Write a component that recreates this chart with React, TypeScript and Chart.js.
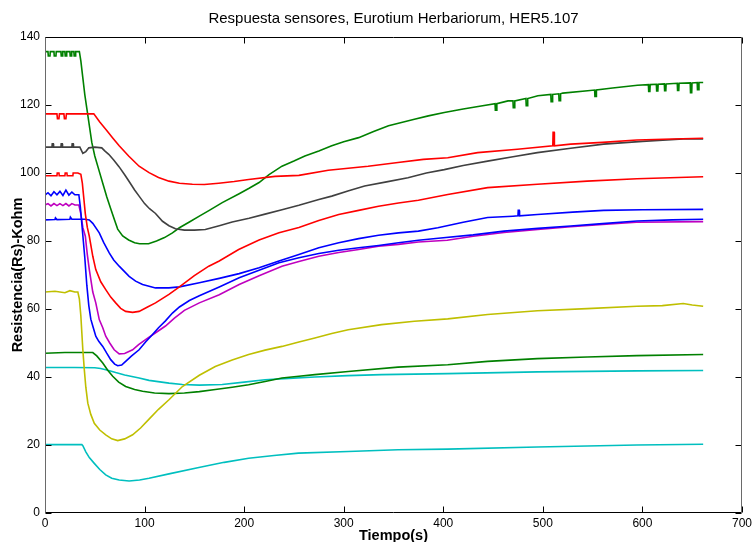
import React, { useEffect, useRef } from "react";
import { Chart, registerables } from "chart.js";

Chart.register(...registerables);

const TITLE = "Respuesta sensores, Eurotium Herbariorum, HER5.107";
const X_LABEL = "Tiempo(s)";
const Y_LABEL = "Resistencia(Rs)-Kohm";
const X_TICKS = [0, 100, 200, 300, 400, 500, 600, 700];
const Y_TICKS = [0, 20, 40, 60, 80, 100, 120, 140];

// [time (s), resistance (kOhm)]
const green1: [number, number][] = [
  [0, 135.7], [3, 135.7], [3.3, 134.4], [5, 134.4], [5.3, 135.7], [9, 135.7], [9.3, 134.4], [11, 134.4], [11.3, 135.7],
  [16, 135.7], [16.3, 134.4], [17.5, 134.4], [17.8, 135.7], [20, 135.7], [20.3, 134.4], [21.5, 134.4], [21.8, 135.7],
  [25, 135.7], [25.3, 134.4], [26.5, 134.4], [26.8, 135.7], [29, 135.7], [29.3, 134.4], [30.5, 134.4], [30.8, 135.7],
  [34.5, 135.7],
  [36, 133], [38, 128], [40, 123], [42, 119], [44.5, 114], [47, 109], [50, 105], [54, 101], [58, 97], [62, 93],
  [66, 89.5], [70, 86], [73, 83.5], [78, 81.5], [84, 80.3], [90, 79.5], [95, 79.2], [104, 79.2], [112, 80], [120, 81],
  [128, 82.4], [135, 83.9], [145, 85.6], [155, 87.3], [165, 89], [178, 91.3], [195, 93.9], [205, 95.5], [215, 97.2],
  [225, 99.5], [238, 102], [250, 103.5], [261, 105], [275, 106.5], [288, 108], [300, 109.2], [315, 110.4], [330, 112.2],
  [345, 113.9], [360, 115], [371, 115.8], [385, 116.8], [401, 117.8], [420, 118.8], [438, 119.7], [452, 120.4],
  [452.3, 118.5], [453.5, 118.5], [453.8, 120.4], [465, 121.2], [470, 121.2], [470.3, 119.2], [471.5, 119.2],
  [471.8, 121.2], [483, 121.9], [483.3, 119.8], [484.5, 119.8], [484.8, 121.9], [495, 122.7], [508, 123.1],
  [508.3, 121], [509.5, 121], [509.8, 123.1], [516, 123.3], [516.3, 121.3], [517.5, 121.3], [517.8, 123.3],
  [520, 123.5], [545, 124.2], [552, 124.4], [552.3, 122.5], [553.5, 122.5], [553.8, 124.4], [570, 125], [595, 125.8],
  [606, 126], [606.3, 124], [607.5, 124], [607.8, 126], [614, 126.1], [614.3, 124.1], [615.5, 124.1], [615.8, 126.1],
  [622, 126.2], [622.3, 124.2], [623.5, 124.2], [623.8, 126.2], [635, 126.4], [635.3, 124.3], [636.5, 124.3],
  [636.8, 126.4], [648, 126.5], [648.3, 123.6], [649.5, 123.6], [649.8, 126.5], [655, 126.6], [655.3, 124.5],
  [656.5, 124.5], [656.8, 126.6], [661, 126.6],
];

const red2: [number, number][] = [
  [0, 117.4], [12, 117.4], [12.5, 116], [14, 116], [14.5, 117.4], [19, 117.4], [19.5, 116], [21, 116], [21.5, 117.4],
  [49, 117.4], [55, 115], [62, 112.5], [68, 110.3], [74.5, 108], [84, 105], [94.5, 102], [104.5, 100.1], [114, 98.7],
  [124.5, 97.6], [135, 97], [148, 96.7], [160, 96.6], [174.5, 97], [190, 97.5], [204.5, 98.1], [231, 99], [255, 99.3],
  [284.5, 100.8], [324.5, 102], [354.5, 103.1], [380, 104], [404.5, 104.5], [434.5, 106], [474.5, 107], [510, 108],
  [510.3, 112], [511.3, 112], [511.6, 108], [528, 108.5], [560, 109], [594.5, 109.7], [630, 110], [661, 110.2],
];

const gray: [number, number][] = [
  [0, 107.6], [7, 107.6], [7.3, 108.6], [8.3, 108.6], [8.6, 107.6], [16, 107.6], [16.3, 108.6], [17.3, 108.6],
  [17.6, 107.6], [27, 107.6], [27.3, 108.6], [28.3, 108.6], [28.6, 107.6], [35, 107.6], [38, 105.8], [41, 106.3],
  [44, 107.4], [50, 107.6], [57, 107.4], [60, 106.5], [64, 105.5],
  [69, 103.8], [74.5, 101.8], [80, 99.5], [84.5, 97.5], [90, 95], [94.5, 93.2], [100, 91], [105, 89.5], [111, 88.1],
  [118, 85.8], [124.5, 84.5], [131, 83.6], [140, 83.2], [150, 83.2], [161, 83.4], [175, 84.5], [188, 85.6], [205, 86.7],
  [221, 87.9], [238, 89.2], [255, 90.5], [275, 92.2], [288, 93.2], [305, 94.8], [321, 96.2], [343, 97.4], [364.5, 98.6],
  [383, 100], [401, 101], [420, 102.2], [444.5, 103.5], [470, 104.8], [494.5, 106], [528, 107.3], [561, 108.5],
  [600, 109.3], [641, 110], [661, 110],
];

const red1: [number, number][] = [
  [0, 99.2], [12, 99.2], [12.3, 100], [14, 100], [14.3, 99.2], [20, 99.2], [20.3, 100], [22, 100], [22.3, 99.2],
  [28, 99.2], [28.3, 100], [33, 100],
  [36, 99.6], [37.5, 97], [38.5, 94], [40.5, 88], [42.5, 84], [44.5, 81.4], [48, 75.5], [51, 71.6], [56, 68], [61, 65.7],
  [66, 63.5], [71, 61.8], [76, 60.2], [81, 59.3], [88, 59], [94.5, 59.3], [103, 60.6], [111, 61.8], [124.5, 64.3],
  [135, 66.5], [150, 69.8], [164.5, 72.6], [175, 74.1], [194.5, 77.5], [215, 80.3], [235, 82.4], [255, 84], [275, 86],
  [295, 87.8], [315, 89], [335, 90.2], [355, 91.2], [375, 92], [404.5, 93.7], [444.5, 95.7], [494.5, 96.7],
  [544.5, 97.6], [594.5, 98.3], [661, 98.9],
];

const blue1: [number, number][] = [
  [0, 93.5], [3, 94.2], [6, 93.3], [9, 94.5], [12, 93.6], [15, 94.6], [18, 93.4], [21, 95], [24, 93.5], [27, 94.4],
  [30, 93.6], [34, 93.6], [35.5, 90], [37, 85], [38.5, 80], [40, 75], [42, 67], [44, 61], [46, 57], [48.5, 54.5],
  [51, 52], [54, 50.5], [58, 49], [62, 47], [66, 45.1], [70, 43.8], [73, 43.3], [77, 43.5], [81, 44.6], [87, 46.2],
  [94.5, 48], [101, 50.3], [108, 52.5], [114, 54.5], [121, 56.5], [128, 58.8], [135, 60.6], [145, 62.5], [155, 63.9],
  [175, 66.5], [195, 69.2], [215, 71.4], [235, 73.6], [255, 75.1], [275, 76.3], [295, 77.3], [315, 78], [335, 78.7],
  [355, 79.5], [375, 80.2], [395, 80.8], [430, 81.8], [461, 82.9], [495, 83.7], [528, 84.4], [560, 85.1], [594.5, 85.9],
  [630, 86.2], [661, 86.4],
];

const blue2: [number, number][] = [
  [0, 86.2], [10, 86.3], [10.5, 86.8], [12, 86.3], [25, 86.4], [25.5, 87], [27, 86.4], [40, 86.4], [44.5, 86.2],
  [48, 85.2], [54.5, 82.4], [59, 79.5], [64.5, 76.5], [69, 74.4], [74.5, 72.6], [84.5, 69.6], [91, 68.2], [98, 67.2],
  [111, 66.2], [124.5, 66.2], [135, 66.5], [155, 67.7], [175, 69], [195, 70.4], [215, 72.1], [235, 74.1], [255, 76],
  [275, 78], [295, 79.5], [315, 80.7], [335, 81.7], [355, 82.4], [375, 82.9], [394.5, 83.9], [420, 85.5], [444.5, 86.9],
  [470, 87.3], [475, 87.4], [475.3, 89], [476.3, 89], [476.6, 87.4], [494.5, 87.8], [530, 88.5], [561, 89], [600, 89.2],
  [661, 89.3],
];

const magenta: [number, number][] = [
  [0, 90.6], [3, 91], [6, 90.3], [9, 91], [12, 90.4], [15, 91], [18, 90.4], [21, 91], [24, 90.3], [27, 91], [30, 90.6],
  [34, 90.6], [36, 88], [38, 84], [40.5, 81.4], [42.5, 76], [44.5, 71.6], [48, 65], [51, 61.8], [54.5, 56.9], [58, 54.5],
  [61, 52], [65, 50], [69.5, 48], [74.5, 46.8], [80, 46.9], [88, 48], [94, 49.5], [101, 51], [110, 52.8], [121, 55],
  [130, 57.3], [140, 59.6], [155, 61.8], [175, 64.2], [195, 67.2], [215, 69.8], [238, 72.6], [255, 74], [275, 75.5],
  [295, 76.6], [315, 77.5], [335, 78.5], [355, 79], [375, 79.7], [404, 80.2], [430, 81.4], [461, 82.5], [495, 83.4],
  [528, 84.2], [560, 84.9], [594, 85.5], [661, 85.7],
];

const yellow: [number, number][] = [
  [0, 65], [10, 65.2], [20, 64.8], [25, 65.4], [30, 65], [33, 65], [34.5, 63], [36, 58], [37, 53], [38, 48], [39.5, 42.1],
  [41, 37], [43, 32.3], [46, 29], [49.5, 26.4], [55, 24.4], [61, 23], [67, 21.8], [73, 21.3], [80, 21.8], [88, 23],
  [96, 25], [104.5, 27.6], [114, 30.5], [124.5, 33.3], [138, 37.2], [155, 40.5], [171, 43.1], [188, 45], [204.5, 46.6],
  [221, 47.9], [238, 49], [255, 50.3], [271, 51.5], [288, 52.8], [304.5, 53.9], [338, 55.4], [371, 56.4], [404.5, 57.1],
  [444.5, 58.4], [494.5, 59.5], [544.5, 60.1], [594.5, 60.8], [620, 61], [641, 61.6], [650, 61.2], [661, 60.8],
];

const green2: [number, number][] = [
  [0, 47], [20, 47.2], [40, 47.2], [48, 47.2], [52, 46.2], [58, 44.1], [63, 42], [68, 40.2], [74, 38.5], [81, 37.2],
  [90, 36.3], [98, 35.8], [110, 35.3], [124.5, 35.1], [140, 35.3], [155, 35.7], [171, 36.3], [188, 37], [204.5, 37.7],
  [221, 38.7], [238, 39.7], [255, 40.2], [271, 40.7], [304.5, 41.6], [354.5, 42.9], [404.5, 43.6], [444.5, 44.6],
  [494.5, 45.4], [544.5, 45.9], [594.5, 46.3], [661, 46.6],
];

const cyan1: [number, number][] = [
  [0, 42.8], [30, 42.8], [50, 42.7], [56, 42.5], [63, 42], [71, 41.3], [80, 40.6], [94.5, 39.7], [104.5, 39],
  [124.5, 38.2], [138, 37.8], [155, 37.6], [178, 37.8], [200, 38.5], [221, 39.2], [245, 39.6], [271, 40], [304, 40.4],
  [338, 40.7], [404.5, 41], [494.5, 41.5], [594.5, 41.8], [661, 41.9],
];

const cyan2: [number, number][] = [
  [0, 20.1], [37, 20.1], [38, 19.8], [41, 18], [44.5, 16.3], [49.5, 14.6], [55, 12.8], [61, 11.2], [67, 10.2],
  [74.5, 9.7], [84.5, 9.4], [95, 9.7], [104.5, 10.2], [124.5, 11.5], [154.5, 13.4], [180, 14.9], [204.5, 16.1],
  [230, 16.9], [254.5, 17.6], [304.5, 18.1], [354.5, 18.6], [404.5, 18.8], [494.5, 19.4], [594.5, 20], [661, 20.2],
];

// topmost first (Chart.js draws dataset 0 last)
const SERIES: { name: string; data: [number, number][]; color: string }[] = [
  { name: "S1", data: red2, color: "#FF0000" },
  { name: "S2", data: gray, color: "#404040" },
  { name: "S3", data: green1, color: "#008000" },
  { name: "S4", data: red1, color: "#FF0000" },
  { name: "S5", data: blue2, color: "#0000FF" },
  { name: "S6", data: blue1, color: "#0000FF" },
  { name: "S7", data: magenta, color: "#BF00BF" },
  { name: "S8", data: yellow, color: "#BFBF00" },
  { name: "S9", data: green2, color: "#008000" },
  { name: "S10", data: cyan1, color: "#00BFBF" },
  { name: "S11", data: cyan2, color: "#00BFBF" },
];

const FONT = "'Liberation Sans', Arial, Helvetica, sans-serif";

const framePlugin = {
  id: "matlabFrame",
  afterDatasetsDraw(chart: any) {
    const { ctx, chartArea: a, scales } = chart;
    const x = scales.x;
    const y = scales.y;
    const L = Math.round(a.left) + 0.5;
    const R = Math.round(a.right) - 0.5;
    const T = Math.round(a.top) + 0.5;
    const B = Math.round(a.bottom) - 0.5;
    ctx.save();
    ctx.lineWidth = 1;
    ctx.strokeStyle = "#000000";
    ctx.beginPath();
    for (const v of X_TICKS) {
      const px = Math.round(x.getPixelForValue(v)) + 0.5;
      ctx.moveTo(px, B);
      ctx.lineTo(px, B - 6);
      ctx.moveTo(px, T);
      ctx.lineTo(px, T + 6);
    }
    for (const v of Y_TICKS) {
      const py = Math.round(y.getPixelForValue(v)) + 0.5;
      ctx.moveTo(L, py);
      ctx.lineTo(L + 6, py);
      ctx.moveTo(R, py);
      ctx.lineTo(R - 6, py);
    }
    ctx.stroke();
    ctx.beginPath();
    ctx.moveTo(L, T);
    ctx.lineTo(R, T);
    ctx.moveTo(L, B);
    ctx.lineTo(R, B);
    ctx.stroke();
    ctx.strokeStyle = "#6a6a6a";
    ctx.beginPath();
    ctx.moveTo(L, T);
    ctx.lineTo(L, B);
    ctx.moveTo(R, T);
    ctx.lineTo(R, B);
    ctx.stroke();
    ctx.restore();
  },
};

export default function App() {
  const ref = useRef<HTMLCanvasElement | null>(null);

  useEffect(() => {
    if (!ref.current) return;
    const chart = new Chart(ref.current, {
      type: "line",
      data: {
        datasets: SERIES.map((s) => ({
          label: s.name,
          data: s.data.map(([t, v]) => ({ x: t, y: v })),
          borderColor: s.color,
          backgroundColor: s.color,
          borderWidth: 1.6,
          pointRadius: 0,
          tension: 0,
          fill: false,
        })),
      },
      options: {
        responsive: false,
        animation: false,
        parsing: true,
        layout: { padding: { left: 0, right: 11, top: 0, bottom: 0 } },
        plugins: {
          legend: { display: false },
          tooltip: { enabled: false },
          title: {
            display: true,
            text: TITLE,
            fullSize: false,
            color: "#000",
            font: { family: FONT, size: 15, weight: "normal" },
            padding: { top: 10, bottom: 9 },
          },
        },
        scales: {
          x: {
            type: "linear",
            min: 0,
            max: 700,
            afterBuildTicks: (s: any) => {
              s.ticks = X_TICKS.map((v) => ({ value: v }));
            },
            afterFit: (s: any) => {
              s.height = 29;
            },
            grid: { display: false, drawTicks: false },
            border: { display: false },
            ticks: {
              color: "#000",
              padding: 3,
              maxRotation: 0,
              font: { family: FONT, size: 12 },
            },
            title: {
              display: true,
              text: X_LABEL,
              color: "#000",
              font: { family: FONT, size: 14.5, weight: "bold" },
              padding: { top: 0, bottom: -2.5 },
            },
          },
          y: {
            type: "linear",
            min: 0,
            max: 140,
            afterBuildTicks: (s: any) => {
              s.ticks = Y_TICKS.map((v) => ({ value: v }));
            },
            afterFit: (s: any) => {
              s.width = 45;
            },
            grid: { display: false, drawTicks: false },
            border: { display: false },
            ticks: {
              color: "#000",
              padding: 5,
              font: { family: FONT, size: 12 },
            },
            title: {
              display: true,
              text: Y_LABEL,
              color: "#000",
              font: { family: FONT, size: 14.5, weight: "bold" },
              padding: { top: 9, bottom: 0 },
            },
          },
        },
      },
      plugins: [framePlugin],
    });
    return () => chart.destroy();
  }, []);

  return (
    <div style={{ position: "fixed", left: 0, top: 0, width: 755, height: 542, background: "#ffffff" }}>
      <canvas ref={ref} width={755} height={542} />
    </div>
  );
}
